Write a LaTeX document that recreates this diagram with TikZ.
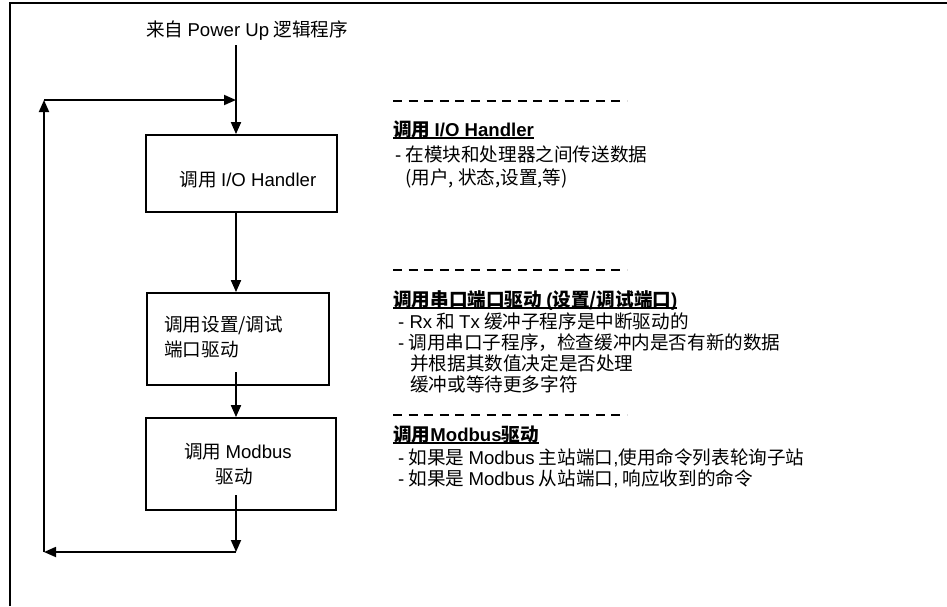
\documentclass[tikz,border=0pt]{standalone}
\usepackage{fontspec}
\setmainfont{Noto Sans CJK SC}
\newfontfamily\ar{Liberation Sans}
\usetikzlibrary{arrows.meta}
\newcommand\en[1]{{\ar #1}}
\newcommand\myul[1]{\sbox0{#1}\rlap{\usebox0}\rule[-3pt]{\wd0}{1.6pt}}
\begin{document}
\begin{tikzpicture}[x=1pt,y=-1pt,
  every node/.style={inner sep=0pt,font=\fontsize{18.6}{22}\selectfont},
  txt/.style={anchor=base west},
  ctxt/.style={anchor=base},
  box/.style={draw,line width=1.8pt,rectangle},
  arr/.style={-{Triangle[length=12pt,width=10pt]},line width=1.8pt},
  dsh/.style={line width=2.2pt,dash pattern=on 9pt off 6.6pt},
  frame/.style={line width=1.8pt}]
\useasboundingbox (0,0) rectangle (947,606);
% frame
\coordinate (f1) at (10,606);
\coordinate (f2) at (10,3);
\coordinate (f3) at (947,3);
\draw[frame] (f1) -- (f2) -- (f3);
% title
\node[txt] (title) at (146,36) {来自 \en{Power Up} 逻辑程序};
% boxes
\node[box,minimum width=191pt,minimum height=77pt] (b1) at (241.5,173.5) {};
\node[box,minimum width=182pt,minimum height=92pt] (b2) at (238,339) {};
\node[box,minimum width=190pt,minimum height=92pt] (b3) at (241,464) {};
\node[ctxt] (t1) at (248,186) {调用 \en{I/O Handler}};
\node[txt] (t2a) at (164,331) {调用设置/调试};
\node[txt] (t2b) at (164,356) {端口驱动};
\node[ctxt] (t3a) at (238,458) {调用 \en{Modbus}};
\node[ctxt] (t3b) at (234.5,483) {驱动};
% connectors
\coordinate (t0) at (236,45);
\coordinate (j1) at (236,100);
\coordinate (l1) at (44,100);
\coordinate (l2) at (44,552);
\coordinate (j2) at (236,552);
\coordinate (s2) at (236,372);
\coordinate (s3) at (236,495);
\draw[arr] (t0) -- (b1.north -| t0);
\draw[arr] (b1.south -| t0) -- (b2.north -| t0);
\draw[arr] (s2) -- (b3.north -| t0);
\draw[arr] (s3) -- (j2);
\draw[arr] (j2) -- (l2);
\draw[arr] (l2) -- (l1);
\draw[arr] (l1) -- (j1);
% right side notes
\coordinate (d1a) at (393,101); \coordinate (d1b) at (627,101);
\coordinate (d2a) at (393,270); \coordinate (d2b) at (627,270);
\coordinate (d3a) at (393,415); \coordinate (d3b) at (627,415);
\draw[dsh] (d1a) -- (d1b);
\draw[dsh] (d2a) -- (d2b);
\draw[dsh] (d3a) -- (d3b);
\node[txt] (h1) at (393,136) {\bfseries\myul{调用 \en{I/O Handler}}};
\node[txt] (n1a) at (395,161) {\en{-} 在模块和处理器之间传送数据};
\node[txt] (n1b) at (405,184) {(用户, 状态,设置,等)};
\node[txt] (h2) at (393,306) {\bfseries\myul{调用串口端口驱动 \en{(}设置/调试端口\en{)}}};
\node[txt] (n2a) at (398,328) {\en{- Rx} 和 \en{Tx} 缓冲子程序是中断驱动的};
\node[txt] (n2b) at (398,349) {\en{-} 调用串口子程序，检查缓冲内是否有新的数据};
\node[txt] (n2c) at (410,370) {并根据其数值决定是否处理};
\node[txt] (n2d) at (410,391) {缓冲或等待更多字符};
\node[txt] (h3) at (393,441) {\bfseries\myul{调用\en{Modbus}驱动}};
\node[txt] (n3a) at (398,464) {\en{-} 如果是 \en{Modbus} 主站端口\en{,}使用命令列表轮询子站};
\node[txt] (n3b) at (398,485) {\en{-} 如果是 \en{Modbus} 从站端口\en{,} 响应收到的命令};
\end{tikzpicture}
\end{document}
